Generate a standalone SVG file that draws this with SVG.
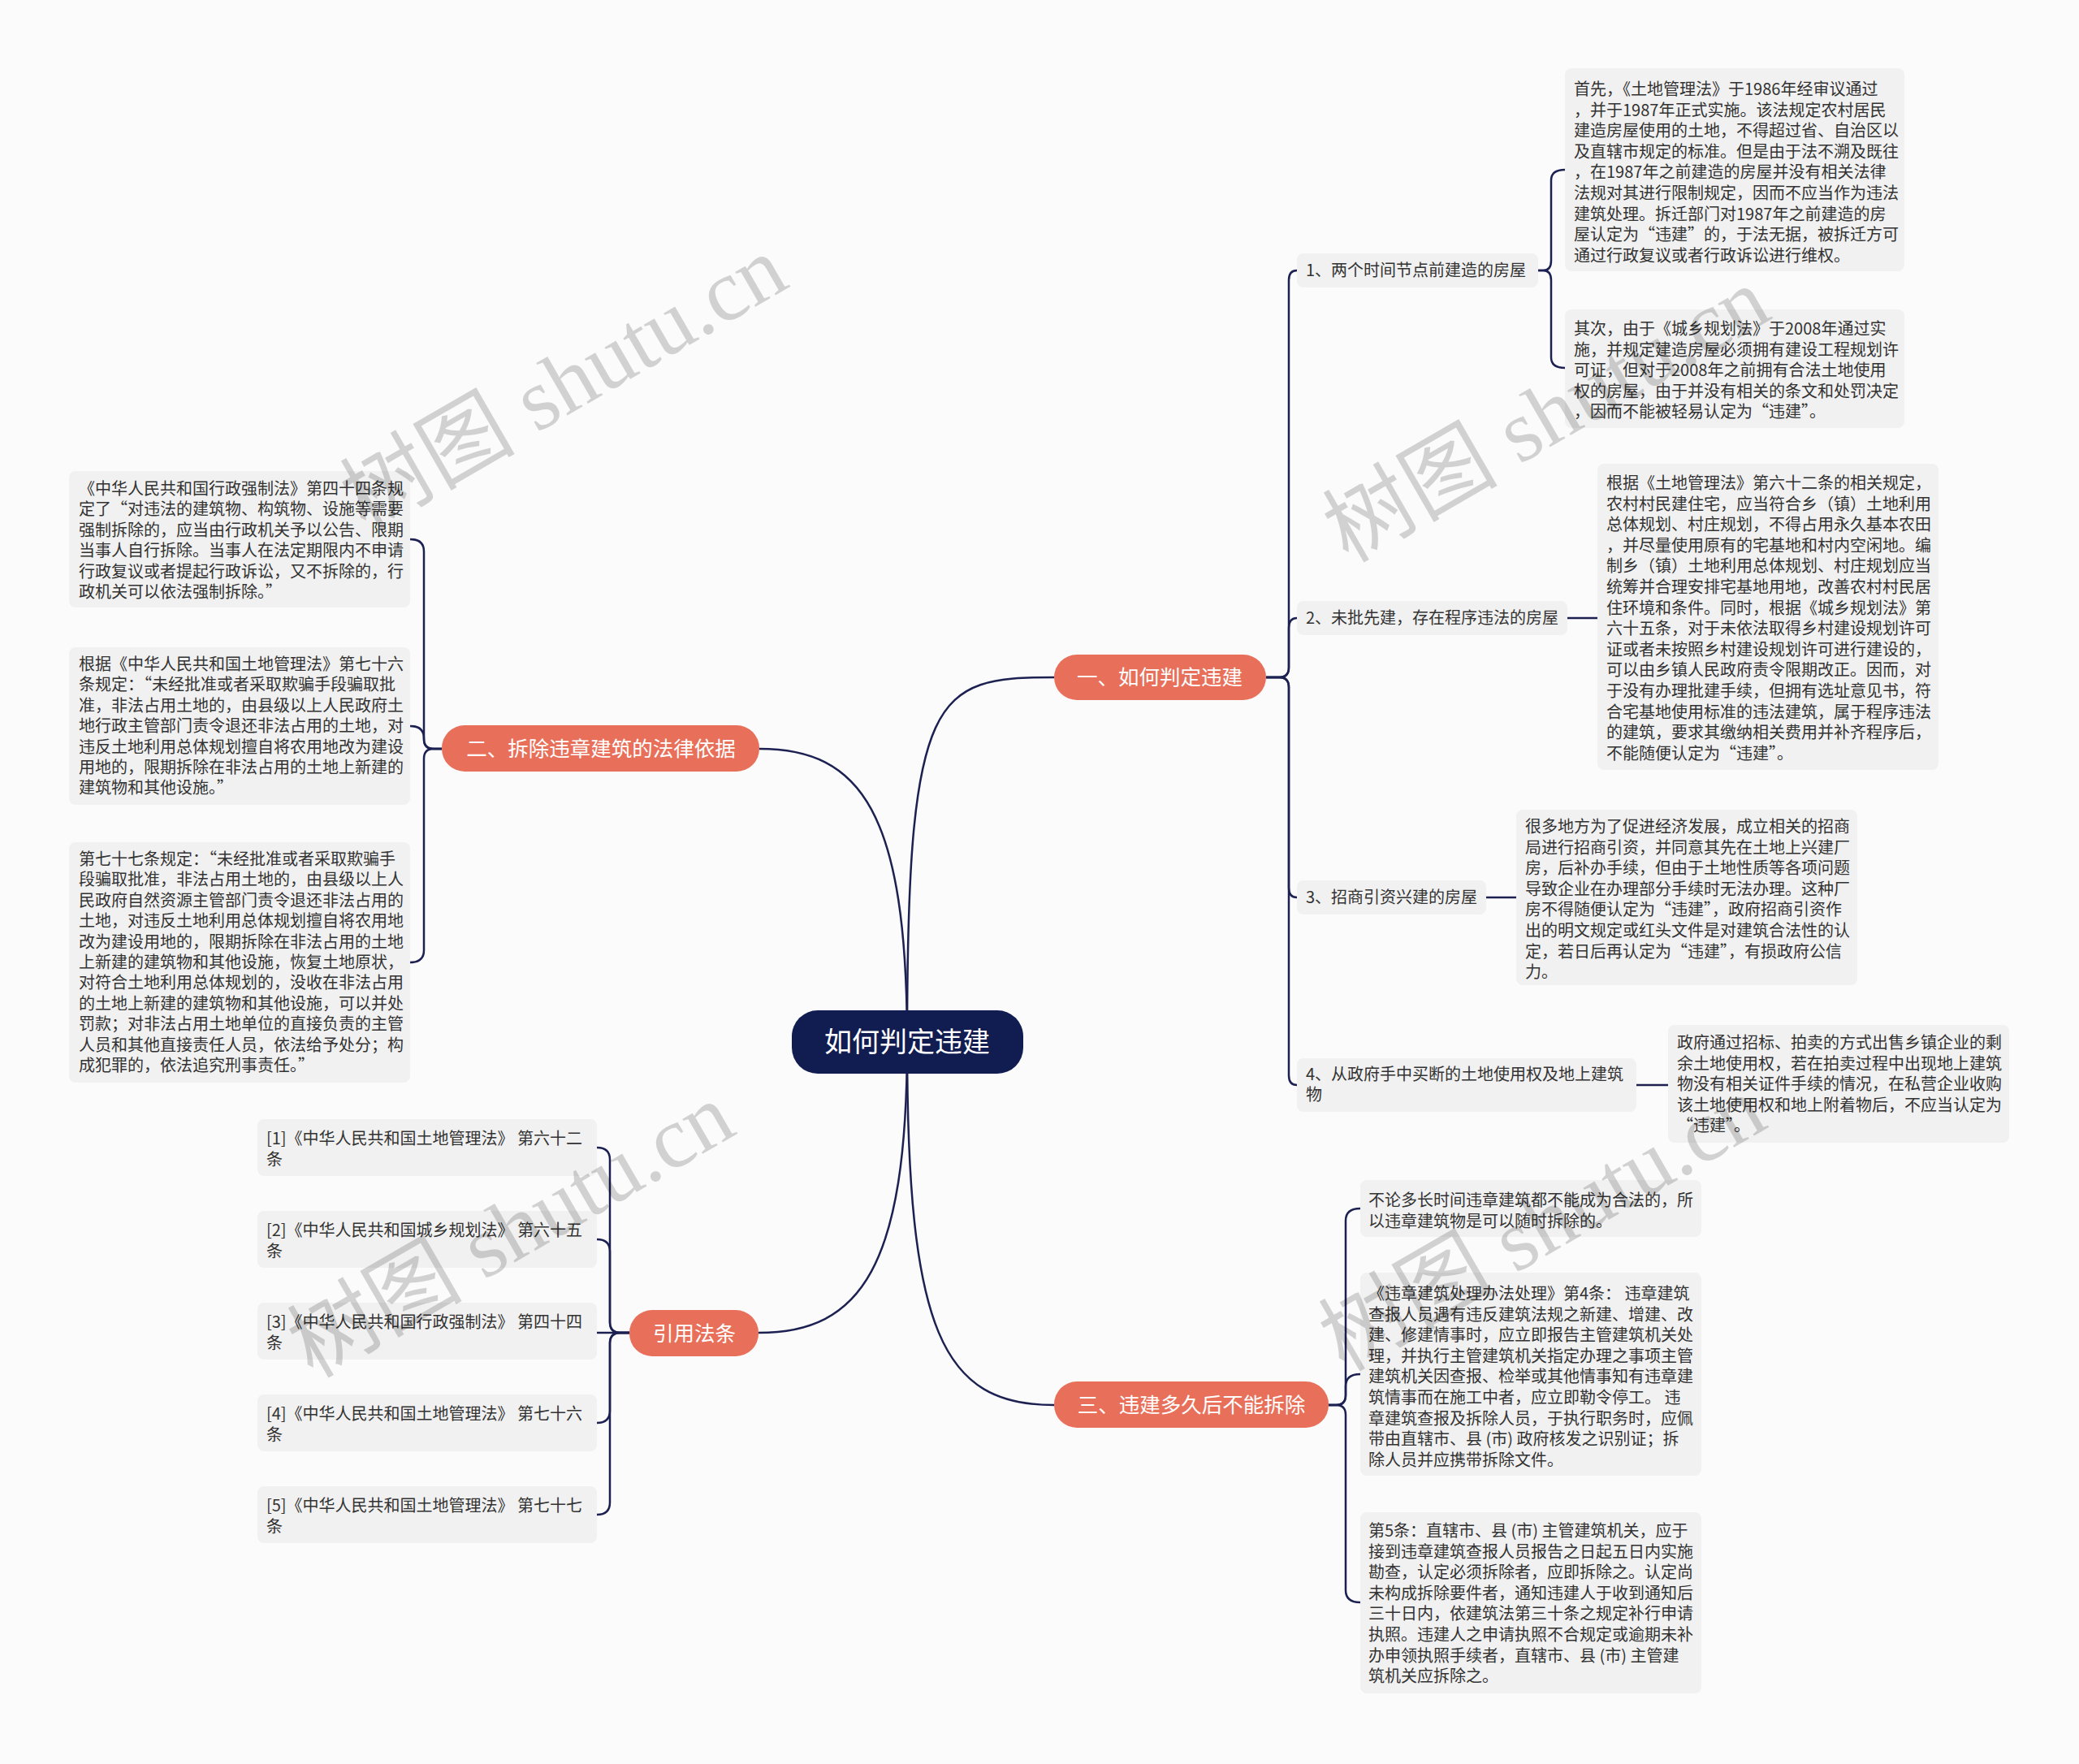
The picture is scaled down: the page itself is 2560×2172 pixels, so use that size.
<svg xmlns="http://www.w3.org/2000/svg" width="2560" height="2172" viewBox="0 0 2560 2172">
<style>
.bg{fill:#fbfbfb}
.leaf{fill:#f1f1f1}
.t{font-family:"Noto Sans CJK SC","Noto Sans",sans-serif;font-size:20px;fill:#333}
.main{fill:#e8705a}
.mt{font-family:"Noto Sans CJK SC","Noto Sans",sans-serif;font-size:25.5px;fill:#ffffff;text-anchor:middle}
.ct{font-family:"Noto Sans CJK SC","Noto Sans",sans-serif;font-size:34px;fill:#ffffff;text-anchor:middle}
.conn{fill:none;stroke:#1c2152;stroke-width:2.5}
.wm{font-family:"Liberation Serif","Noto Sans CJK SC",serif;font-size:108px;fill:#000;opacity:0.16}
</style>
<rect class="bg" x="0" y="0" width="2560" height="2172"/>

<g id="connectors">
<path class="conn" d="M1117,1283 C1117,850 1150,834 1298,834"/>
<path class="conn" d="M1117,1283 C1117,1000 1060,922 935,922"/>
<path class="conn" d="M1117,1283 C1117,1560 1060,1641 934,1641"/>
<path class="conn" d="M1117,1283 C1117,1640 1160,1730 1298,1730"/>
<path class="conn" d="M1559,834 H1575 Q1587,834 1587,822 V345 Q1587,333 1597,333"/>
<path class="conn" d="M1559,834 H1575 Q1587,834 1587,822 V773 Q1587,761 1597,761"/>
<path class="conn" d="M1559,834 H1575 Q1587,834 1587,846 V1093 Q1587,1105 1597,1105"/>
<path class="conn" d="M1559,834 H1575 Q1587,834 1587,846 V1324 Q1587,1336 1597,1336"/>
<path class="conn" d="M1894,333 H1900 Q1910,333 1910,321 V222 Q1910,209 1927,209"/>
<path class="conn" d="M1894,333 H1900 Q1910,333 1910,345 V440 Q1910,453 1927,453"/>
<path class="conn" d="M1930,761 H1967"/>
<path class="conn" d="M1830,1105 H1867"/>
<path class="conn" d="M2015,1336 H2054"/>
<path class="conn" d="M1636,1730 H1645 Q1657,1730 1657,1718 V1503 Q1657,1488 1675,1488"/>
<path class="conn" d="M1636,1730 H1645 Q1657,1730 1657,1718 V1707 Q1657,1692 1675,1692"/>
<path class="conn" d="M1636,1730 H1645 Q1657,1730 1657,1742 V1958 Q1657,1973 1675,1973"/>
<path class="conn" d="M544,922 H534 Q522,922 522,910 V679 Q522,664 505,664"/>
<path class="conn" d="M544,922 H534 Q522,922 522,910 V909 Q522,894 505,894"/>
<path class="conn" d="M544,922 H534 Q522,922 522,934 V1170 Q522,1185 505,1185"/>
<path class="conn" d="M775,1641 H764 Q751,1641 751,1628 V1428 Q751,1413 735,1413"/>
<path class="conn" d="M775,1641 H764 Q751,1641 751,1628 V1541 Q751,1526 735,1526"/>
<path class="conn" d="M775,1641 H735"/>
<path class="conn" d="M775,1641 H764 Q751,1641 751,1654 V1737 Q751,1752 735,1752"/>
<path class="conn" d="M775,1641 H764 Q751,1641 751,1654 V1850 Q751,1865 735,1865"/>
</g>

<g id="center">
<rect x="975" y="1244" width="285" height="78" rx="32" fill="#111c50"/>
<text class="ct" x="1117" y="1295">如何判定违建</text>
</g>

<g id="n1">
<rect class="main" x="1298" y="806" width="261" height="56" rx="28"/>
<text class="mt" x="1428" y="843">一、如何判定违建</text>
</g>
<g id="n2">
<rect class="main" x="544" y="893" width="391" height="57" rx="28"/>
<text class="mt" x="740" y="931">二、拆除违章建筑的法律依据</text>
</g>
<g id="n3">
<rect class="main" x="775" y="1613" width="159" height="57" rx="28"/>
<text class="mt" x="855" y="1651">引用法条</text>
</g>
<g id="n4">
<rect class="main" x="1298" y="1701" width="338" height="57" rx="28"/>
<text class="mt" x="1467" y="1739">三、违建多久后不能拆除</text>
</g>

<g id="n1-1">
<rect class="leaf" x="1597" y="312" width="297" height="42" rx="8"/>
<text class="t" x="1608" y="340">1、两个时间节点前建造的房屋</text>
</g>
<g id="n1-1a">
<rect class="leaf" x="1927" y="84" width="418" height="250" rx="8"/>
<text class="t" x="1938" y="117"><tspan x="1938">首先，《土地管理法》于1986年经审议通过</tspan><tspan x="1938" dy="25.6">，并于1987年正式实施。该法规定农村居民</tspan><tspan x="1938" dy="25.6">建造房屋使用的土地，不得超过省、自治区以</tspan><tspan x="1938" dy="25.6">及直辖市规定的标准。但是由于法不溯及既往</tspan><tspan x="1938" dy="25.6">，在1987年之前建造的房屋并没有相关法律</tspan><tspan x="1938" dy="25.6">法规对其进行限制规定，因而不应当作为违法</tspan><tspan x="1938" dy="25.6">建筑处理。拆迁部门对1987年之前建造的房</tspan><tspan x="1938" dy="25.6">屋认定为“违建”的，于法无据，被拆迁方可</tspan><tspan x="1938" dy="25.6">通过行政复议或者行政诉讼进行维权。</tspan></text>
</g>
<g id="n1-1b">
<rect class="leaf" x="1927" y="381" width="418" height="146" rx="8"/>
<text class="t" x="1938" y="412"><tspan x="1938">其次，由于《城乡规划法》于2008年通过实</tspan><tspan x="1938" dy="25.6">施，并规定建造房屋必须拥有建设工程规划许</tspan><tspan x="1938" dy="25.6">可证，但对于2008年之前拥有合法土地使用</tspan><tspan x="1938" dy="25.6">权的房屋，由于并没有相关的条文和处罚决定</tspan><tspan x="1938" dy="25.6">，因而不能被轻易认定为“违建”。</tspan></text>
</g>

<g id="n1-2">
<rect class="leaf" x="1597" y="740" width="333" height="42" rx="8"/>
<text class="t" x="1608" y="768">2、未批先建，存在程序违法的房屋</text>
</g>
<g id="n1-2a">
<rect class="leaf" x="1967" y="571" width="420" height="377" rx="8"/>
<text class="t" x="1978" y="602"><tspan x="1978">根据《土地管理法》第六十二条的相关规定，</tspan><tspan x="1978" dy="25.6">农村村民建住宅，应当符合乡（镇）土地利用</tspan><tspan x="1978" dy="25.6">总体规划、村庄规划，不得占用永久基本农田</tspan><tspan x="1978" dy="25.6">，并尽量使用原有的宅基地和村内空闲地。编</tspan><tspan x="1978" dy="25.6">制乡（镇）土地利用总体规划、村庄规划应当</tspan><tspan x="1978" dy="25.6">统筹并合理安排宅基地用地，改善农村村民居</tspan><tspan x="1978" dy="25.6">住环境和条件。同时，根据《城乡规划法》第</tspan><tspan x="1978" dy="25.6">六十五条，对于未依法取得乡村建设规划许可</tspan><tspan x="1978" dy="25.6">证或者未按照乡村建设规划许可进行建设的，</tspan><tspan x="1978" dy="25.6">可以由乡镇人民政府责令限期改正。因而，对</tspan><tspan x="1978" dy="25.6">于没有办理批建手续，但拥有选址意见书，符</tspan><tspan x="1978" dy="25.6">合宅基地使用标准的违法建筑，属于程序违法</tspan><tspan x="1978" dy="25.6">的建筑，要求其缴纳相关费用并补齐程序后，</tspan><tspan x="1978" dy="25.6">不能随便认定为“违建”。</tspan></text>
</g>

<g id="n1-3">
<rect class="leaf" x="1597" y="1084" width="233" height="42" rx="8"/>
<text class="t" x="1608" y="1112">3、招商引资兴建的房屋</text>
</g>
<g id="n1-3a">
<rect class="leaf" x="1867" y="997" width="420" height="216" rx="8"/>
<text class="t" x="1878" y="1025"><tspan x="1878">很多地方为了促进经济发展，成立相关的招商</tspan><tspan x="1878" dy="25.6">局进行招商引资，并同意其先在土地上兴建厂</tspan><tspan x="1878" dy="25.6">房，后补办手续，但由于土地性质等各项问题</tspan><tspan x="1878" dy="25.6">导致企业在办理部分手续时无法办理。这种厂</tspan><tspan x="1878" dy="25.6">房不得随便认定为“违建”，政府招商引资作</tspan><tspan x="1878" dy="25.6">出的明文规定或红头文件是对建筑合法性的认</tspan><tspan x="1878" dy="25.6">定，若日后再认定为“违建”，有损政府公信</tspan><tspan x="1878" dy="25.6">力。</tspan></text>
</g>

<g id="n1-4">
<rect class="leaf" x="1597" y="1303" width="418" height="66" rx="8"/>
<text class="t" x="1608" y="1330"><tspan x="1608">4、从政府手中买断的土地使用权及地上建筑</tspan><tspan x="1608" dy="25">物</tspan></text>
</g>
<g id="n1-4a">
<rect class="leaf" x="2054" y="1262" width="420" height="145" rx="8"/>
<text class="t" x="2065" y="1291"><tspan x="2065">政府通过招标、拍卖的方式出售乡镇企业的剩</tspan><tspan x="2065" dy="25.6">余土地使用权，若在拍卖过程中出现地上建筑</tspan><tspan x="2065" dy="25.6">物没有相关证件手续的情况，在私营企业收购</tspan><tspan x="2065" dy="25.6">该土地使用权和地上附着物后，不应当认定为</tspan><tspan x="2065" dy="25.6">“违建”。</tspan></text>
</g>

<g id="n4-1">
<rect class="leaf" x="1675" y="1453" width="420" height="70" rx="8"/>
<text class="t" x="1685" y="1485"><tspan x="1685">不论多长时间违章建筑都不能成为合法的，所</tspan><tspan x="1685" dy="25.6">以违章建筑物是可以随时拆除的。</tspan></text>
</g>
<g id="n4-2">
<rect class="leaf" x="1675" y="1567" width="420" height="250" rx="8"/>
<text class="t" x="1685" y="1600"><tspan x="1685">《违章建筑处理办法处理》第4条： 违章建筑</tspan><tspan x="1685" dy="25.6">查报人员遇有违反建筑法规之新建、增建、改</tspan><tspan x="1685" dy="25.6">建、修建情事时，应立即报告主管建筑机关处</tspan><tspan x="1685" dy="25.6">理，并执行主管建筑机关指定办理之事项主管</tspan><tspan x="1685" dy="25.6">建筑机关因查报、检举或其他情事知有违章建</tspan><tspan x="1685" dy="25.6">筑情事而在施工中者，应立即勒令停工。 违</tspan><tspan x="1685" dy="25.6">章建筑查报及拆除人员，于执行职务时，应佩</tspan><tspan x="1685" dy="25.6">带由直辖市、县 (市) 政府核发之识别证；拆</tspan><tspan x="1685" dy="25.6">除人员并应携带拆除文件。</tspan></text>
</g>
<g id="n4-3">
<rect class="leaf" x="1675" y="1862" width="420" height="223" rx="8"/>
<text class="t" x="1685" y="1892"><tspan x="1685">第5条：直辖市、县 (市) 主管建筑机关，应于</tspan><tspan x="1685" dy="25.6">接到违章建筑查报人员报告之日起五日内实施</tspan><tspan x="1685" dy="25.6">勘查，认定必须拆除者，应即拆除之。认定尚</tspan><tspan x="1685" dy="25.6">未构成拆除要件者，通知违建人于收到通知后</tspan><tspan x="1685" dy="25.6">三十日内，依建筑法第三十条之规定补行申请</tspan><tspan x="1685" dy="25.6">执照。违建人之申请执照不合规定或逾期未补</tspan><tspan x="1685" dy="25.6">办申领执照手续者，直辖市、县 (市) 主管建</tspan><tspan x="1685" dy="25.6">筑机关应拆除之。</tspan></text>
</g>

<g id="n2-1">
<rect class="leaf" x="85" y="580" width="420" height="168" rx="8"/>
<text class="t" x="97" y="609"><tspan x="97">《中华人民共和国行政强制法》第四十四条规</tspan><tspan x="97" dy="25.4">定了“对违法的建筑物、构筑物、设施等需要</tspan><tspan x="97" dy="25.4">强制拆除的，应当由行政机关予以公告、限期</tspan><tspan x="97" dy="25.4">当事人自行拆除。当事人在法定期限内不申请</tspan><tspan x="97" dy="25.4">行政复议或者提起行政诉讼，又不拆除的，行</tspan><tspan x="97" dy="25.4">政机关可以依法强制拆除。”</tspan></text>
</g>
<g id="n2-2">
<rect class="leaf" x="85" y="797" width="420" height="194" rx="8"/>
<text class="t" x="97" y="825"><tspan x="97">根据《中华人民共和国土地管理法》第七十六</tspan><tspan x="97" dy="25.4">条规定：“未经批准或者采取欺骗手段骗取批</tspan><tspan x="97" dy="25.4">准，非法占用土地的，由县级以上人民政府土</tspan><tspan x="97" dy="25.4">地行政主管部门责令退还非法占用的土地，对</tspan><tspan x="97" dy="25.4">违反土地利用总体规划擅自将农用地改为建设</tspan><tspan x="97" dy="25.4">用地的，限期拆除在非法占用的土地上新建的</tspan><tspan x="97" dy="25.4">建筑物和其他设施。”</tspan></text>
</g>
<g id="n2-3">
<rect class="leaf" x="85" y="1037" width="420" height="296" rx="8"/>
<text class="t" x="97" y="1065"><tspan x="97">第七十七条规定：“未经批准或者采取欺骗手</tspan><tspan x="97" dy="25.4">段骗取批准，非法占用土地的，由县级以上人</tspan><tspan x="97" dy="25.4">民政府自然资源主管部门责令退还非法占用的</tspan><tspan x="97" dy="25.4">土地，对违反土地利用总体规划擅自将农用地</tspan><tspan x="97" dy="25.4">改为建设用地的，限期拆除在非法占用的土地</tspan><tspan x="97" dy="25.4">上新建的建筑物和其他设施，恢复土地原状，</tspan><tspan x="97" dy="25.4">对符合土地利用总体规划的，没收在非法占用</tspan><tspan x="97" dy="25.4">的土地上新建的建筑物和其他设施，可以并处</tspan><tspan x="97" dy="25.4">罚款；对非法占用土地单位的直接负责的主管</tspan><tspan x="97" dy="25.4">人员和其他直接责任人员，依法给予处分；构</tspan><tspan x="97" dy="25.4">成犯罪的，依法追究刑事责任。”</tspan></text>
</g>

<g id="n3-1">
<rect class="leaf" x="317" y="1378" width="418" height="70" rx="8"/>
<text class="t" x="328" y="1409"><tspan x="328">[1]《中华人民共和国土地管理法》 第六十二</tspan><tspan x="328" dy="25.6">条</tspan></text>
</g>
<g id="n3-2">
<rect class="leaf" x="317" y="1491" width="418" height="70" rx="8"/>
<text class="t" x="328" y="1522"><tspan x="328">[2]《中华人民共和国城乡规划法》 第六十五</tspan><tspan x="328" dy="25.6">条</tspan></text>
</g>
<g id="n3-3">
<rect class="leaf" x="317" y="1604" width="418" height="70" rx="8"/>
<text class="t" x="328" y="1635"><tspan x="328">[3]《中华人民共和国行政强制法》 第四十四</tspan><tspan x="328" dy="25.6">条</tspan></text>
</g>
<g id="n3-4">
<rect class="leaf" x="317" y="1717" width="418" height="70" rx="8"/>
<text class="t" x="328" y="1748"><tspan x="328">[4]《中华人民共和国土地管理法》 第七十六</tspan><tspan x="328" dy="25.6">条</tspan></text>
</g>
<g id="n3-5">
<rect class="leaf" x="317" y="1830" width="418" height="70" rx="8"/>
<text class="t" x="328" y="1861"><tspan x="328">[5]《中华人民共和国土地管理法》 第七十七</tspan><tspan x="328" dy="25.6">条</tspan></text>
</g>

<g id="watermarks">
<text class="wm" x="450" y="655" transform="rotate(-30 450 655)">树图 shutu.cn</text>
<text class="wm" x="1660" y="694" transform="rotate(-30 1660 694)">树图 shutu.cn</text>
<text class="wm" x="385" y="1698" transform="rotate(-30 385 1698)">树图 shutu.cn</text>
<text class="wm" x="1655" y="1690" transform="rotate(-30 1655 1690)">树图 shutu.cn</text>
</g>
</svg>
